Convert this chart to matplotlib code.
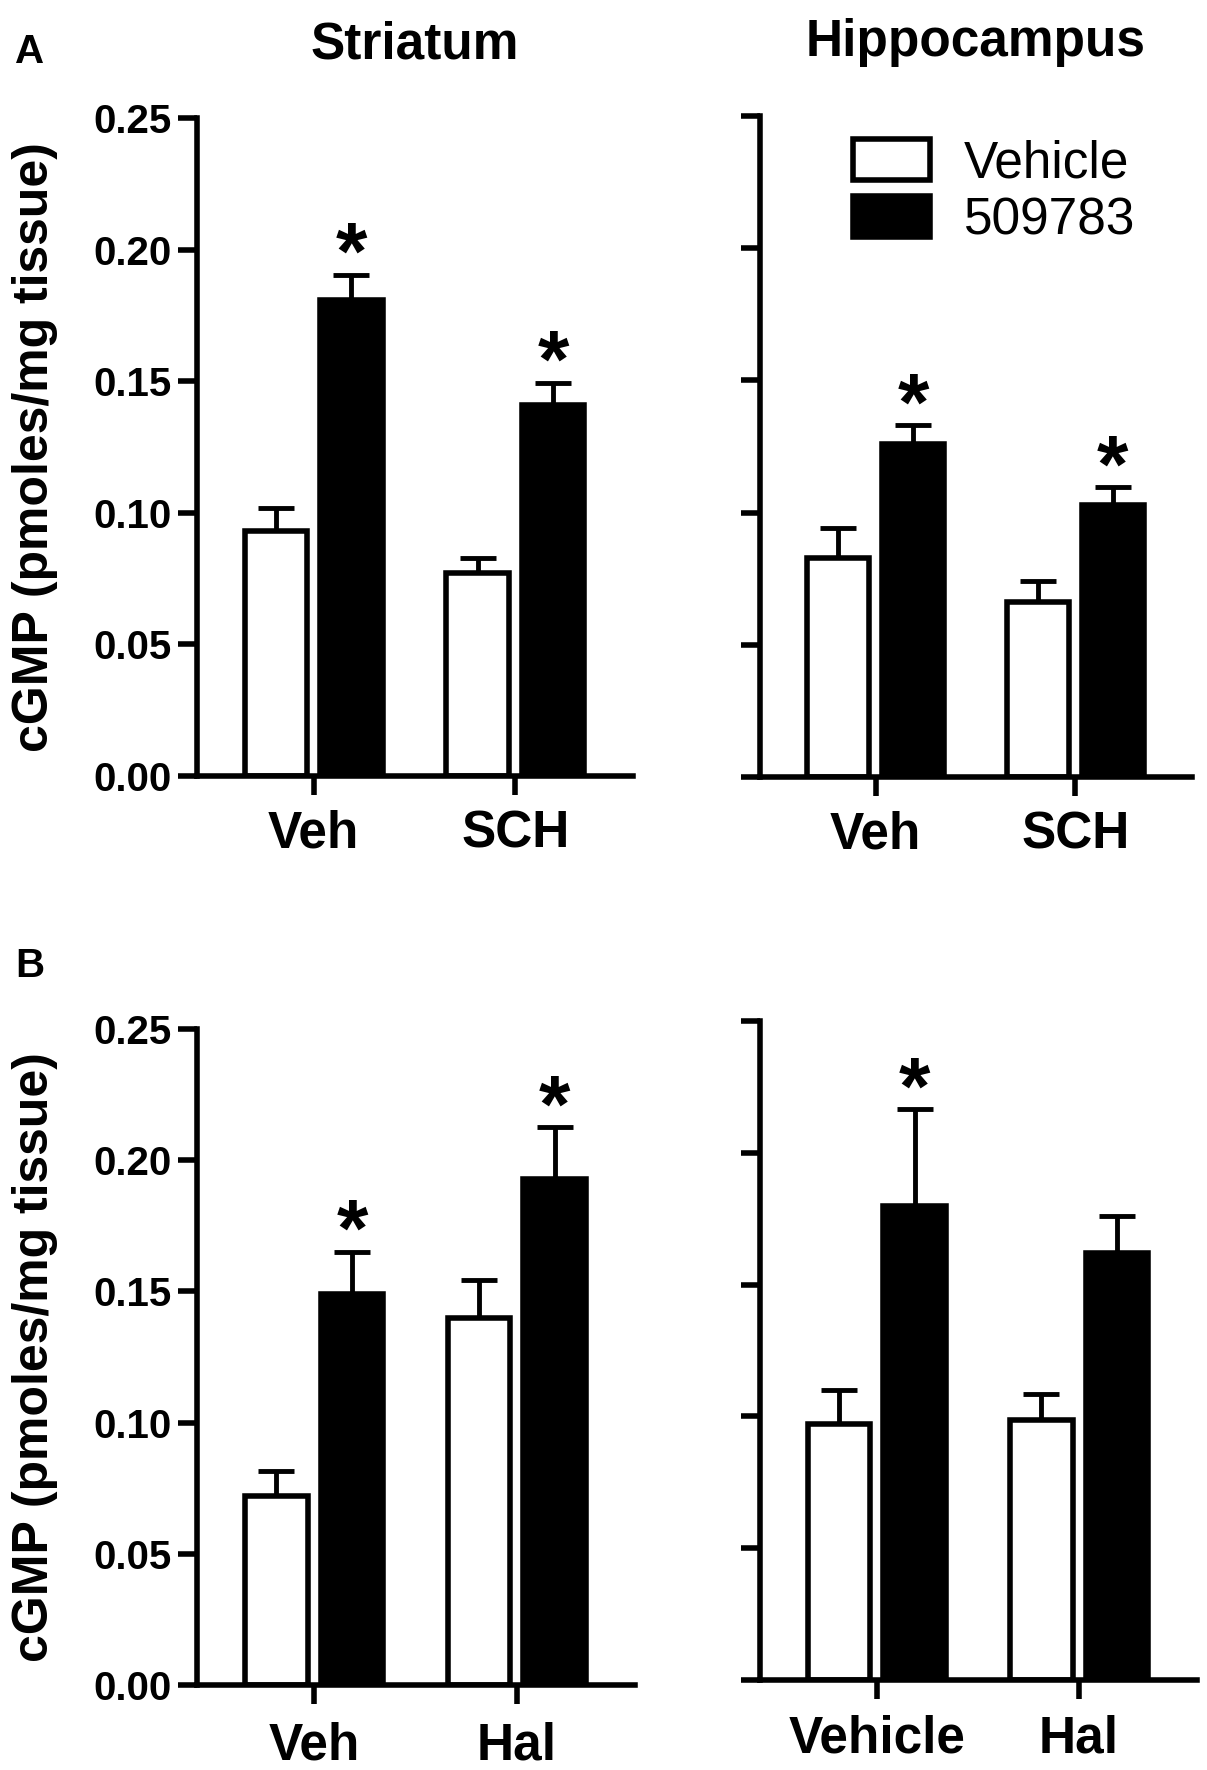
import matplotlib
matplotlib.use('Agg')
import matplotlib.pyplot as plt
import numpy as np

plt.rcParams['font.family'] = ['Liberation Sans', 'DejaVu Sans']

# ---------------- data ----------------
series = ['Vehicle', '509783']
yticks = [0.00, 0.05, 0.10, 0.15, 0.20, 0.25]

# Panel A - Striatum
a_str_cats = ['Veh', 'SCH']
a_str_veh = [0.093, 0.077]
a_str_veh_err = [0.009, 0.006]
a_str_drug = [0.181, 0.141]
a_str_drug_err = [0.0095, 0.0085]
a_str_sig = [True, True]

# Panel A - Hippocampus
a_hip_cats = ['Veh', 'SCH']
a_hip_veh = [0.083, 0.066]
a_hip_veh_err = [0.011, 0.008]
a_hip_drug = [0.126, 0.103]
a_hip_drug_err = [0.007, 0.0065]
a_hip_sig = [True, True]

# Panel B - Striatum
b_str_cats = ['Veh', 'Hal']
b_str_veh = [0.072, 0.140]
b_str_veh_err = [0.0095, 0.0145]
b_str_drug = [0.149, 0.193]
b_str_drug_err = [0.016, 0.0195]
b_str_sig = [True, True]

# Panel B - Hippocampus
b_hip_cats = ['Vehicle', 'Hal']
b_hip_veh = [0.097, 0.0985]
b_hip_veh_err = [0.013, 0.010]
b_hip_drug = [0.180, 0.162]
b_hip_drug_err = [0.0365, 0.014]
b_hip_sig = [True, False]

# ---------------- figure ----------------
W, H = 1207, 1770
fig = plt.figure(figsize=(W / 100, H / 100), dpi=100)


def rect(left, right, top, bottom):
    return [left / W, 1 - bottom / H, (right - left) / W, (bottom - top) / H]


LW = 4.0
OFF = 0.187
BW = 0.31


def draw(ax, cats, veh, veh_err, drug, drug_err, sig, show_ylabels, xpad):
    x = np.arange(len(cats))
    b1 = ax.bar(x - OFF, veh, BW, color='white', edgecolor='black',
                linewidth=LW, label=series[0], zorder=2)
    b2 = ax.bar(x + OFF, drug, BW, color='black', edgecolor='black',
                linewidth=LW, label=series[1], zorder=2)
    ax.errorbar(x - OFF, veh, yerr=[np.zeros(len(veh)), veh_err], fmt='none',
                ecolor='black', elinewidth=3.5, capsize=13, capthick=3.5,
                zorder=1, clip_on=False)
    ax.errorbar(x + OFF, drug, yerr=[np.zeros(len(drug)), drug_err], fmt='none',
                ecolor='black', elinewidth=3.5, capsize=13, capthick=3.5,
                zorder=1, clip_on=False)
    for xi, v, e, s in zip(x, drug, drug_err, sig):
        if s:
            ax.text(xi + OFF, v + e - 0.0015, '*', ha='center', va='baseline',
                    fontsize=58, fontweight='bold', clip_on=False)
    ax.set_xlim(-0.578, 1.583)
    ax.set_ylim(0, 0.25)
    ax.set_xticks(x)
    ax.set_xticklabels(cats, fontsize=37, fontweight='bold')
    ax.set_yticks(yticks)
    if show_ylabels:
        ax.set_yticklabels([f'{t:.2f}' for t in yticks], fontsize=29,
                           fontweight='bold')
    else:
        ax.set_yticklabels([])
    for side in ['top', 'right']:
        ax.spines[side].set_visible(False)
    for side in ['left', 'bottom']:
        ax.spines[side].set_linewidth(LW)
    ax.tick_params(axis='both', length=14, width=LW, direction='out')
    ax.tick_params(axis='y', pad=4.5)
    ax.tick_params(axis='x', pad=xpad)
    return b1, b2


ax1 = fig.add_axes(rect(197, 633, 118, 776))
draw(ax1, a_str_cats, a_str_veh, a_str_veh_err, a_str_drug, a_str_drug_err,
     a_str_sig, True, 10)
ax1.set_title('Striatum', fontsize=37, fontweight='bold', pad=43)
ax1.set_ylabel('cGMP (pmoles/mg tissue)', fontsize=36, fontweight='bold')
ax1.yaxis.set_label_coords((35 - 197) / 436, 0.5)
ax1.yaxis.label.set_verticalalignment('center')

ax2 = fig.add_axes(rect(760, 1192, 116, 777))
h1, h2 = draw(ax2, a_hip_cats, a_hip_veh, a_hip_veh_err, a_hip_drug,
              a_hip_drug_err, a_hip_sig, False, 10)
ax2.set_title('Hippocampus', fontsize=37, fontweight='bold', pad=43)
ax2.legend(handles=[h1, h2], labels=series, loc='upper left',
           bbox_to_anchor=((853 - 760) / 432, 0.965), frameon=False,
           fontsize=37, handlelength=1.5, handleheight=0.85,
           handletextpad=0.65, labelspacing=0.15, borderpad=0,
           borderaxespad=0)

ax3 = fig.add_axes(rect(197, 635, 1029, 1685))
draw(ax3, b_str_cats, b_str_veh, b_str_veh_err, b_str_drug, b_str_drug_err,
     b_str_sig, True, 12)
ax3.set_ylabel('cGMP (pmoles/mg tissue)', fontsize=36, fontweight='bold')
ax3.yaxis.set_label_coords((35 - 197) / 438, 0.5)
ax3.yaxis.label.set_verticalalignment('center')

ax4 = fig.add_axes(rect(760, 1197, 1021, 1680))
draw(ax4, b_hip_cats, b_hip_veh, b_hip_veh_err, b_hip_drug, b_hip_drug_err,
     b_hip_sig, False, 11)

fig.text(15 / W, 1 - 63 / H, 'A', fontsize=29, fontweight='bold', va='baseline')
fig.text(15 / W, 1 - 977 / H, 'B', fontsize=29, fontweight='bold', va='baseline')

fig.savefig('out.png', dpi=100)
